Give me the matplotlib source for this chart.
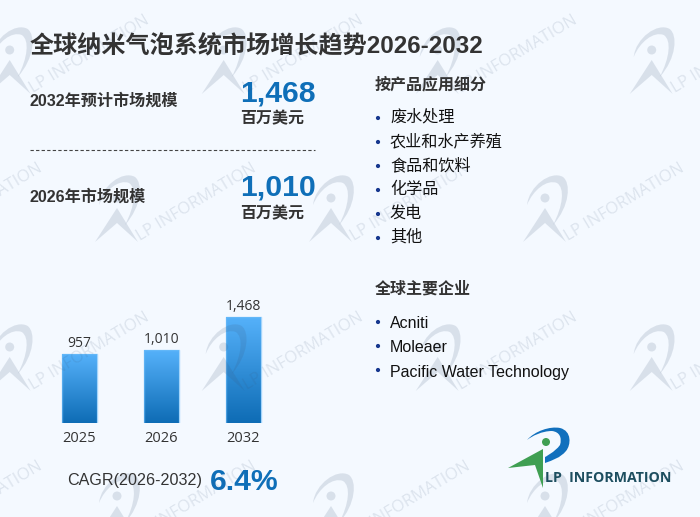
import numpy as np
import matplotlib
matplotlib.use('Agg')
import matplotlib.pyplot as plt
from matplotlib.colors import LinearSegmentedColormap
from matplotlib.patches import Circle, PathPatch, Polygon
from matplotlib.path import Path

plt.rcParams['font.family'] = ['Liberation Sans', 'Noto Sans CJK SC']

# data
years = ['2025', '2026', '2032']
market_size = [957, 1010, 1468]
bar_labels = ['957', '1,010', '1,468']
applications = ['废水处理', '农业和水产养殖', '食品和饮料', '化学品', '发电', '其他']
companies = ['Acniti', 'Moleaer', 'Pacific Water Technology']
title = '全球纳米气泡系统市场增长趋势2026-2032'
cagr_label = 'CAGR(2026-2032)'
cagr_value = '6.4%'

BG = '#f4f9ff'
DARK = '#333333'
BLUE = '#0f6fb8'
NAVY = '#17388f'

fig = plt.figure(figsize=(7, 5.17), dpi=100, facecolor=BG)

#bar chart, sits under the watermark layer
H = 517.0
ax = fig.add_axes([38 / 700, (H - 422.7) / H, 246.5 / 700, 115.2 / H], zorder=1)
ax.patch.set_alpha(0)
grad = np.linspace(0, 1, 128).reshape(-1, 1)
cmap = LinearSegmentedColormap.from_list('bar', ['#55b1fa', '#0e6cb5'])
bars = ax.bar(range(3), market_size, width=0.425, color='none', edgecolor='none')
for i, b in enumerate(bars):
    im = ax.imshow(grad, cmap=cmap, aspect='auto', zorder=2,
                   extent=[i - 0.2125, i + 0.2125, 0, market_size[i]])
    im.set_clip_path(b)
    ax.plot([i - 0.2125, i - 0.2125, i + 0.2125, i + 0.2125],
            [0, market_size[i], market_size[i], 0],
            color='#6dbcf8', lw=1, alpha=0.6, zorder=3)
    ax.text(i, market_size[i] + 38, bar_labels[i], ha='center', va='bottom',
            fontsize=10, color=DARK, family=['Open Sans', 'Noto Sans CJK SC'])
ax.set_xlim(-0.5, 2.5)
ax.set_ylim(0, 1600)
ax.set_xticks(range(3))
ax.set_xticklabels(years, fontsize=10.5, color=DARK, family=['Open Sans', 'Noto Sans CJK SC'])
ax.set_yticks([])
ax.tick_params(axis='x', length=0, pad=6)
for s in ax.spines.values():
    s.set_visible(False)

#pixel layer for the text, logo, watermark
ov = fig.add_axes([0, 0, 1, 1], zorder=2)
ov.set_xlim(0, 700)
ov.set_ylim(517, 0)
ov.axis('off')

ov.text(30, 47, title, fontsize=17.35, fontweight='bold', color=DARK, va='center')

ov.text(30, 101, '2032年预计市场规模', fontsize=11.6, fontweight='bold', color=DARK, va='center')
ov.text(30, 197, '2026年市场规模', fontsize=11.6, fontweight='bold', color=DARK, va='center')
for y, val in [(93, '1,468'), (188, '1,010')]:
    ov.text(240, y, val, fontsize=21.7, fontweight='bold', color=BLUE, va='center')
    ov.text(240, y + 26, '百万美元', fontsize=11.5, color=DARK, va='center', fontweight='bold')
ov.plot([30, 315], [150, 150], color='#444444', lw=0.8, ls=(0, (3, 2)))

ov.text(375, 85, '按产品应用细分', fontsize=11.5, fontweight='bold', color=DARK, va='center')
for i, name in enumerate(applications):
    y = 117 + i * 24
    ov.add_patch(Circle((378, y + 1), 2.1, color=NAVY, lw=0))
    ov.text(390, y, name, fontsize=11.6, color='#111111', va='center')

ov.text(375, 289, '全球主要企业', fontsize=11.5, fontweight='bold', color=DARK, va='center')
for i, name in enumerate(companies):
    y = 324 + i * 24
    ov.add_patch(Circle((378, y - 2), 2.1, color=NAVY, lw=0))
    ov.text(390, y, name, fontsize=11.5, color='#111111', va='center')

ov.text(67, 481, cagr_label, fontsize=11.6, color=DARK, va='center')
ov.text(210, 482, cagr_value, fontsize=21.7, fontweight='bold', color=BLUE, va='center')


def swoosh(x0, y0):
    verts = [(-18, 7), (-16, -12), (6, -28), (18, -21), (26, -15), (25, 8), (8, 27),
             (18, 8), (20, -10), (12, -15), (2, -19), (-12, -8), (-18, 7)]
    codes = [Path.MOVETO] + [Path.CURVE4] * 12
    return Path([(x0 + a, y0 + b) for a, b in verts], codes)


def watermark(x0, y0):
    c = '#3c5578'
    ov.add_patch(PathPatch(swoosh(x0, y0), fc=c, ec='none', alpha=0.15))
    ov.add_patch(Circle((x0, y0), 4.5, fc=c, ec='none', alpha=0.15))
    ov.add_patch(Polygon([(x0 - 22, y0 + 44), (x0, y0 + 10), (x0 + 21, y0 + 44), (x0, y0 + 25)],
                         fc=c, ec='none', alpha=0.15))
    ov.text(x0 + 21, y0 + 40, 'LP INFORMATION', fontsize=12, color=c, alpha=0.13,
            rotation=31, rotation_mode='anchor', ha='left', va='center',
            family=['Open Sans', 'Noto Sans CJK SC'], clip_on=True)


for y0 in (50, 347):
    for x0 in (9.7, 223.7, 437.7, 651.7):
        watermark(x0, y0)
for y0 in (198, 496):
    for x0 in (-97, 117, 331, 545):
        watermark(x0, y0)

# logo
ov.add_patch(PathPatch(Path([(527, 440), (535, 431), (550, 426), (560, 428), (572, 431), (571, 445),
                             (566, 451), (560, 458), (553, 460), (545, 463), (545, 457), (545, 457),
                             (545, 457), (555, 452), (560, 445), (562, 438), (560, 432), (552, 431),
                             (542, 431), (532, 436), (527, 440)],
                            [Path.MOVETO] + [Path.CURVE4] * 9 + [Path.LINETO] * 2 + [Path.CURVE4] * 9),
                       fc='#1170bd', ec='none'))
ov.add_patch(Circle((546, 442), 4, fc='#3f9f52', ec='none'))
ov.add_patch(Polygon([(508, 468), (543, 449), (543, 488), (535, 465)], fc='#3f9f52', ec='none'))
ov.text(545, 477.5, 'LP  INFORMATION', fontsize=10.2, fontweight='bold', color='#1d4e5f',
        va='center', family=['Open Sans', 'Noto Sans CJK SC'])

fig.savefig('out.png', dpi=100, facecolor=BG)
